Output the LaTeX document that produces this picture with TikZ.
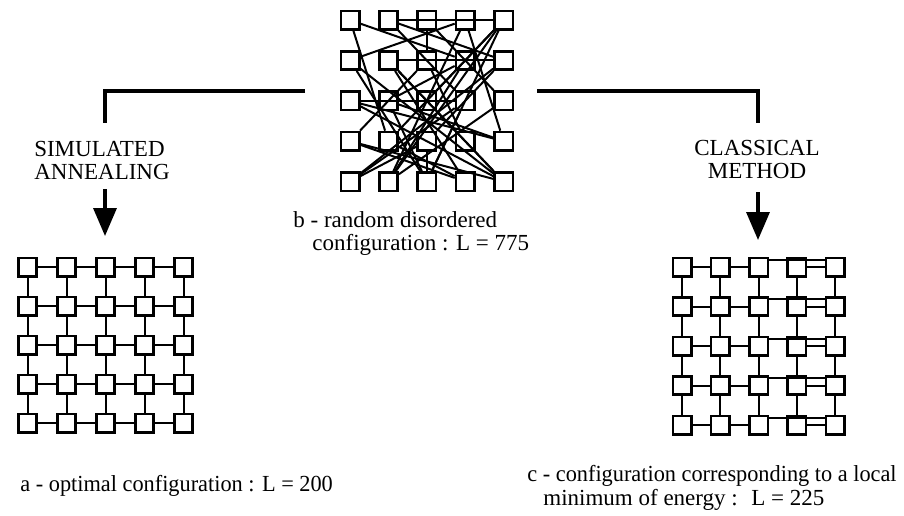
\documentclass[tikz,border=0pt]{standalone}
\usepackage{fontspec}
\setmainfont{Liberation Serif}
\newfontfamily\narrowserif{Liberation Serif}[FakeStretch=0.97]
\usetikzlibrary{arrows.meta}
\tikzset{
  site/.style={draw, line width=1.3pt, minimum size=9.2pt, inner sep=0pt},
  bond/.style={line width=1pt},
  branch/.style={line width=1.7pt},
  downarrow/.style={-{Triangle[width=11.5pt,length=14pt]}, line width=1.7pt},
  caption/.style={font=\fontsize{11.5}{11.5}\selectfont, inner sep=0pt},
}

\begin{document}
\begin{tikzpicture}[x=0.5pt, y=-0.5pt]
  \useasboundingbox (0,0) rectangle (904,515);
  % b: random disordered configuration (top)
  \foreach \i in {1,...,5} \foreach \j in {1,...,5}
    \node[site] (b-\i-\j) at (350+38.4*\i-38.4, 20+40.4*\j-40.4) {};
  \foreach \p/\q/\r/\s in {2/1/5/1, 2/2/5/2, 1/3/4/3, 1/1/4/2, 1/1/2/4, 1/2/4/1,
      2/1/4/3, 2/1/5/2, 3/1/5/3, 3/1/3/2, 4/1/2/5, 5/1/3/3, 5/1/2/4, 5/1/2/5,
      4/1/5/4, 1/2/5/5, 1/2/3/5, 1/3/5/5, 1/3/5/4, 1/4/5/5, 1/4/4/5, 1/5/4/3,
      1/5/3/4, 1/5/5/2, 2/3/5/4, 2/2/4/5, 2/2/5/5, 2/3/3/5, 2/5/4/2, 2/5/5/3,
      3/4/5/2, 3/2/4/4, 3/4/3/5, 2/4/4/5, 4/3/3/5, 3/2/1/4, 4/2/2/3, 3/3/5/5,
      4/4/2/2, 3/5/5/1}
    \draw[bond] (b-\p-\q) -- (b-\r-\s);
  \node[caption, anchor=west] (blab1) at (293,220) {b - random disordered};
  \node[caption, anchor=west] (blab2) at (312,245) {configuration : L = 775};

  % a: optimal configuration (left)
  \foreach \i in {1,...,5} \foreach \j in {1,...,5}
    \node[site] (a-\i-\j) at (27.5+39*\i-39, 267+39*\j-39) {};
  \foreach \i [evaluate=\i as \k using int(\i+1)] in {1,...,4} \foreach \j in {1,...,5} {
    \draw[bond] (a-\i-\j) -- (a-\k-\j);
    \draw[bond] (a-\j-\i) -- (a-\j-\k);
  }
  \node[caption, anchor=west] (alab) at (20,486) {\narrowserif a - optimal configuration : L = 200};

  % c: local minimum (right)
  \foreach \i in {1,...,5} \foreach \j in {1,...,5}
    \node[site] (c-\i-\j) at (682+38.3*\i-38.3, 267+39.5*\j-39.5) {};
  \foreach \i [evaluate=\i as \k using int(\i+1)] in {1,...,4} \foreach \j in {1,...,5}
    \draw[bond] (c-\j-\i) -- (c-\j-\k);
  \foreach \j in {1,...,5} {
    \draw[bond] (c-1-\j) -- (c-2-\j);
    \draw[bond] (c-2-\j) -- (c-3-\j);
    \draw[bond] (c-4-\j) -- (c-5-\j);
    \draw[bond] ([yshift=-1.5pt]c-3-\j.north east) -- ([yshift=-1.5pt]c-5-\j.north west);
  }
  \node[caption, anchor=west] (clab1) at (527,476) {\narrowserif c - configuration corresponding to a local};
  \node[caption, anchor=west] (clab2) at (543,500) {minimum of energy : ~L = 225};

  % branches and arrows
  \node[caption, align=left] (sa) at (102,160) {SIMULATED\\ANNEALING};
  \node[caption, align=center] (cm) at (757,159) {CLASSICAL\\METHOD};
  \coordinate (lstart) at (305,91);
  \coordinate (lcorner) at (105,91);
  \coordinate (lend) at (105,123);
  \coordinate (rstart) at (537,91);
  \coordinate (rcorner) at (758,91);
  \coordinate (rend) at (758,123);
  \draw[branch] (lstart) -- (lcorner) -- (lend);
  \draw[branch] (rstart) -- (rcorner) -- (rend);
  \coordinate (lfrom) at (105,189);
  \coordinate (lto) at (105,236);
  \coordinate (rfrom) at (758,192);
  \coordinate (rto) at (758,240);
  \draw[downarrow] (lfrom) -- (lto);
  \draw[downarrow] (rfrom) -- (rto);
\end{tikzpicture}
\end{document}
